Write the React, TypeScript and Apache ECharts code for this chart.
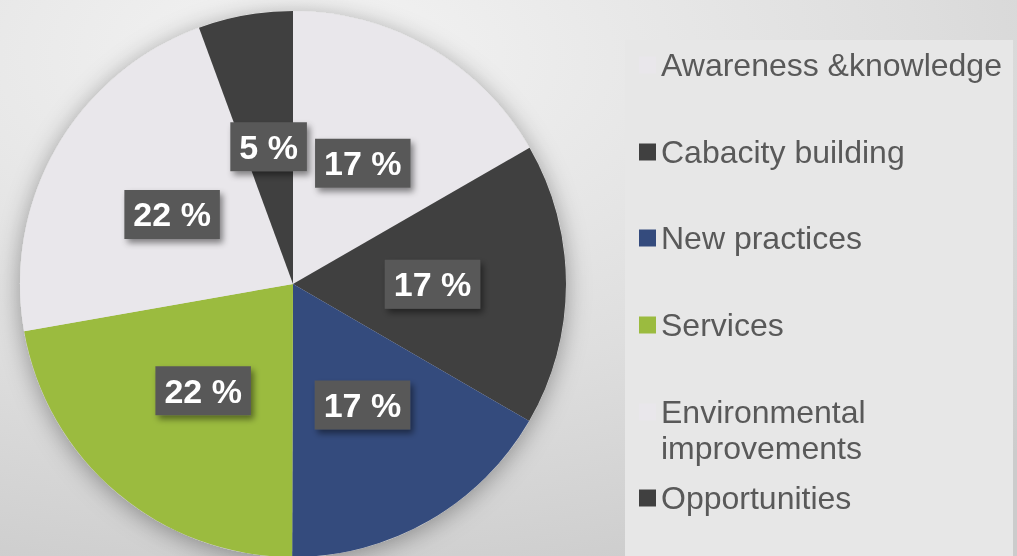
import React, { useEffect, useRef } from "react";
import * as echarts from "echarts";

const categories = [
  "Awareness &knowledge",
  "Cabacity building",
  "New practices",
  "Services",
  "Environmental improvements",
  "Opportunities",
];
const legendLabels = [
  "Awareness &knowledge",
  "Cabacity building",
  "New practices",
  "Services",
  "\nEnvironmental\nimprovements",
  "Opportunities",
];
// slice shares
const values = [16.7, 16.7, 16.7, 22.2, 22.2, 5.6];
// percentage texts as printed on the chart
const labelTexts = ["17 %", "17 %", "17 %", "22 %", "22 %", "5 %"];
const sliceColors = ["#E9E7EB", "#404040", "#344B7D", "#9BBB3F", "#E9E7EB", "#404040"];

// layout only: legend row centres (px)
const legendCenters = [65, 152, 238, 325, 412, 498];

export default function App() {
  const ref = useRef<HTMLDivElement>(null);
  useEffect(() => {
    if (!ref.current) return;
    const chart = echarts.init(ref.current, undefined, { renderer: "svg" });
    const font = "Liberation Sans, Arial, sans-serif";
    const LH = 36;
    const legends = categories.map((name, i) => {
      const lines = legendLabels[i].split("\n").length;
      return {
        show: true,
        data: [name],
        orient: "vertical",
        left: 639,
        top: legendCenters[i] - (lines * LH) / 2,
        padding: 0,
        itemWidth: 17,
        itemHeight: 17,
        itemGap: 0,
        icon: "rect",
        selectedMode: false,
        formatter: () => legendLabels[i],
        textStyle: {
          fontFamily: font,
          fontSize: 32,
          lineHeight: LH,
          color: "#595959",
        },
      };
    });
    chart.setOption({
      animation: false,
      backgroundColor: {
        type: "radial",
        x: 0.3,
        y: 0.1,
        r: 1.0,
        colorStops: [
          { offset: 0, color: "#f4f4f4" },
          { offset: 0.6, color: "#dedede" },
          { offset: 1, color: "#cccccc" },
        ],
      },
      graphic: [
        {
          type: "rect",
          left: 625,
          top: 40,
          shape: { width: 388, height: 520 },
          style: { fill: "#e7e7e7" },
          z: -1,
        },
      ],
      legend: legends,
      series: [
        {
          type: "pie",
          silent: true,
          center: [293, 284],
          radius: 273,
          z: 1,
          label: { show: false },
          labelLine: { show: false },
          data: [{ value: 1, name: "_shade" }],
          itemStyle: {
            color: "#dddddd",
            shadowBlur: 24,
            shadowColor: "rgba(0,0,0,0.35)",
            shadowOffsetX: 0,
            shadowOffsetY: 4,
          },
        },
        {
          type: "pie",
          z: 2,
          center: [293, 284],
          radius: 273,
          startAngle: 90,
          clockwise: true,
          data: categories.map((name, i) => ({
            name,
            value: values[i],
            itemStyle: { color: sliceColors[i] },
          })),
          label: {
            show: true,
            position: "inside",
            formatter: (p: any) => labelTexts[p.dataIndex],
            color: "#ffffff",
            fontFamily: font,
            fontWeight: "bold",
            fontSize: 34,
            lineHeight: 36,
            backgroundColor: "#585858",
            padding: [7, 9, 6, 9],
            shadowColor: "rgba(0,0,0,0.45)",
            shadowBlur: 6,
            shadowOffsetX: 3,
            shadowOffsetY: 4,
          },
          labelLine: { show: false },
          emphasis: { disabled: true },
        },
      ],
    });
    return () => chart.dispose();
  }, []);
  return (
    <div
      ref={ref}
      style={{ position: "fixed", left: 0, top: 0, width: 1017, height: 556 }}
    />
  );
}
